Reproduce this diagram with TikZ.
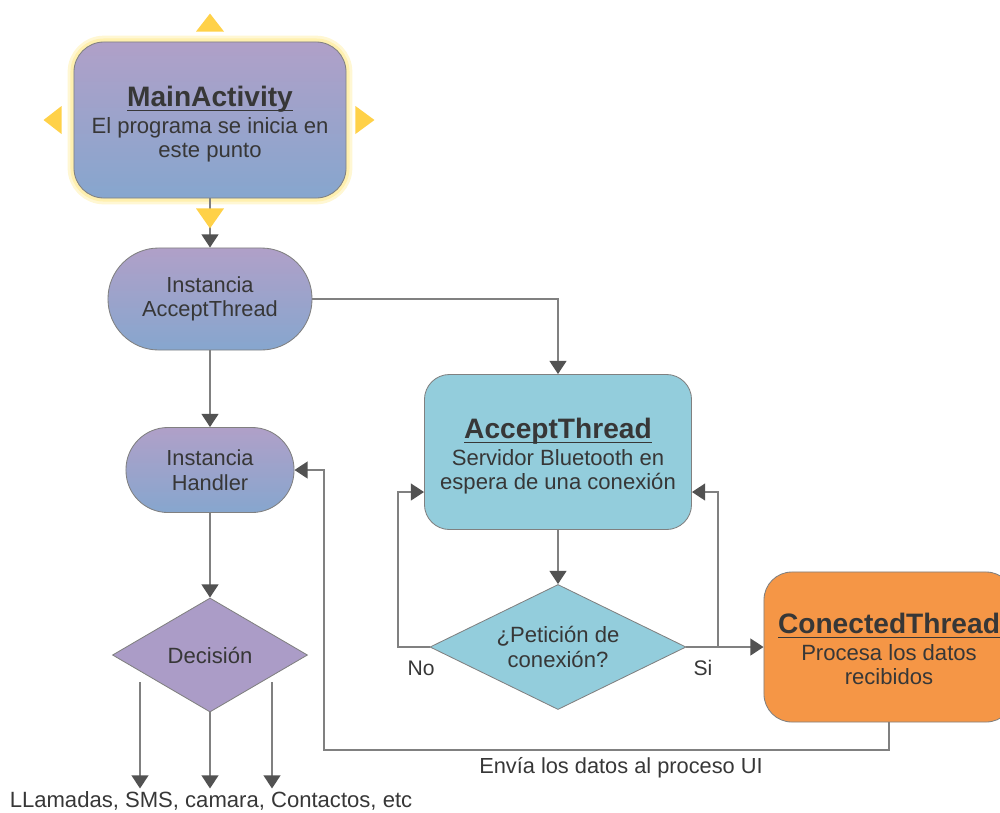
\documentclass[tikz,border=0pt]{standalone}
\usepackage{fontspec}
\setmainfont{Liberation Sans}
\usetikzlibrary{positioning,arrows.meta,calc,shapes.geometric}
\definecolor{fLine}{RGB}{128,128,128}
\definecolor{fTip}{RGB}{82,82,82}
\definecolor{fText}{RGB}{55,55,55}
\definecolor{fTop}{RGB}{176,160,200}
\definecolor{fBot}{RGB}{134,166,206}
\definecolor{fDec}{RGB}{171,156,199}
\definecolor{fTeal}{RGB}{147,205,220}
\definecolor{fOrange}{RGB}{245,150,70}
\definecolor{fHandle}{RGB}{255,209,72}
\definecolor{fGlow}{RGB}{255,240,175}
% bold, underlined first line of a box
\newcommand{\HeadLine}[1]{{\fontsize{20}{22}\selectfont\bfseries
  \rule{0pt}{17.5pt}\setbox0=\hbox{#1}\rlap{\rule[-3.3pt]{\wd0}{1.1pt}}\box0}}
\tikzset{
  body/.style={font=\fontsize{15.7}{17.2}\selectfont, text=fText, align=center},
  blk/.style={rectangle, draw=fLine, line width=0.6pt, body, inner sep=2pt, text depth=0pt},
  grad/.style={top color=fTop, bottom color=fBot},
  pill/.style={rectangle, grad, draw=fLine, line width=0.6pt, align=center,
               text=fText, font=\fontsize{15.5}{17.5}\selectfont},
  decide/.style={diamond, aspect=2, draw=fLine, line width=0.6pt, body, inner sep=0pt},
  flow/.style={draw=fLine, line width=1.4pt,
               -{Triangle[length=3.3mm,width=4.2mm,color=fTip]}},
  lbl/.style={font=\fontsize{15}{17}\selectfont, text=fText, inner sep=2pt},
  handle/.style={fill=fHandle, draw=none},
}
\begin{document}
\begin{tikzpicture}[x=0.025cm, y=-0.025cm]
  \useasboundingbox (0,0) rectangle (1000,812);

  % left column
  \node[blk, grad, rounded corners=0.75cm, minimum width=6.8cm, minimum height=3.9cm,
        preaction={draw=fGlow!55, line width=9pt},
        preaction={draw=fGlow, line width=5pt}] (main) at (210,120)
        {\HeadLine{MainActivity}\\[2pt] El programa se inicia en\\ este punto};
  \node[pill, rounded corners=1.27cm, minimum width=5.1cm, minimum height=2.55cm]
        (inst) at (210,299) {Instancia\\AcceptThread};
  \node[pill, rounded corners=1.05cm, minimum width=4.2cm, minimum height=2.125cm]
        (hand) at (210,470) {Instancia\\Handler};
  \node[decide, fill=fDec, minimum width=4.875cm, minimum height=2.85cm]
        (dec) at (210,655) {Decisión};
  \node[lbl, font=\fontsize{15.7}{17}\selectfont] (calls) at (211,801)
        {LLamadas, SMS, camara, Contactos, etc};

  % right part
  \node[blk, fill=fTeal, rounded corners=0.625cm, minimum width=6.675cm, minimum height=3.875cm]
        (acc) at (558,452)
        {\HeadLine{AcceptThread}\\[2pt] Servidor Bluetooth en\\ espera de una conexión};
  \node[decide, fill=fTeal, minimum width=6.4cm, minimum height=3.125cm]
        (pet) at (558,647) {¿Petición de\\conexión?};
  \node[blk, fill=fOrange, rounded corners=0.7cm, minimum width=6.25cm, minimum height=3.75cm]
        (con) at (889,647)
        {\HeadLine{ConectedThread}\\[2pt] Procesa los datos\\ recibidos};

  \node[lbl] (no) at (421,668) {No};
  \node[lbl] (si) at (703,668) {Si};
  \node[lbl, font=\fontsize{15.5}{17}\selectfont] (envia) at (621,768)
        {Envía los datos al proceso UI};

  \coordinate (o1) at (140,682);
  \coordinate (o3) at (272,682);

  \draw[flow] (main.south) -- (inst.north);
  \draw[flow] (inst.east) -| (acc.north);
  \draw[flow] (inst.south) -- (hand.north);
  \draw[flow] (hand.south) -- (dec.north);
  \draw[flow] (o1) -- (o1 |- calls.north);
  \draw[flow] (dec.south) -- (dec.south |- calls.north);
  \draw[flow] (o3) -- (o3 |- calls.north);

  \draw[flow] (acc.south) -- (pet.north);
  \draw[flow] (pet.west) -- ++(-32,0) |- ($(acc.west)+(0,40)$);
  \draw[flow] (pet.east) -- ++(32,0) |- ($(acc.east)+(0,40)$);
  \draw[flow] (pet.east) -- (con.west);
  \draw[flow] (con.south) -- ++(0,28) -| ($(hand.east)+(30,0)$) -- (hand.east);

  % selection handles round the first box
  \fill[handle] ($(main.north)+(-14,-10)$) -- ++(28,0) -- ++(-14,-18) -- cycle;
  \fill[handle] ($(main.south)+(-14,10)$) -- ++(28,0) -- ++(-14,20) -- cycle;
  \fill[handle] ($(main.west)+(-12,-14)$) -- ++(0,28) -- ++(-18,-14) -- cycle;
  \fill[handle] ($(main.east)+(9,-14)$) -- ++(0,28) -- ++(19,-14) -- cycle;
\end{tikzpicture}
\end{document}
